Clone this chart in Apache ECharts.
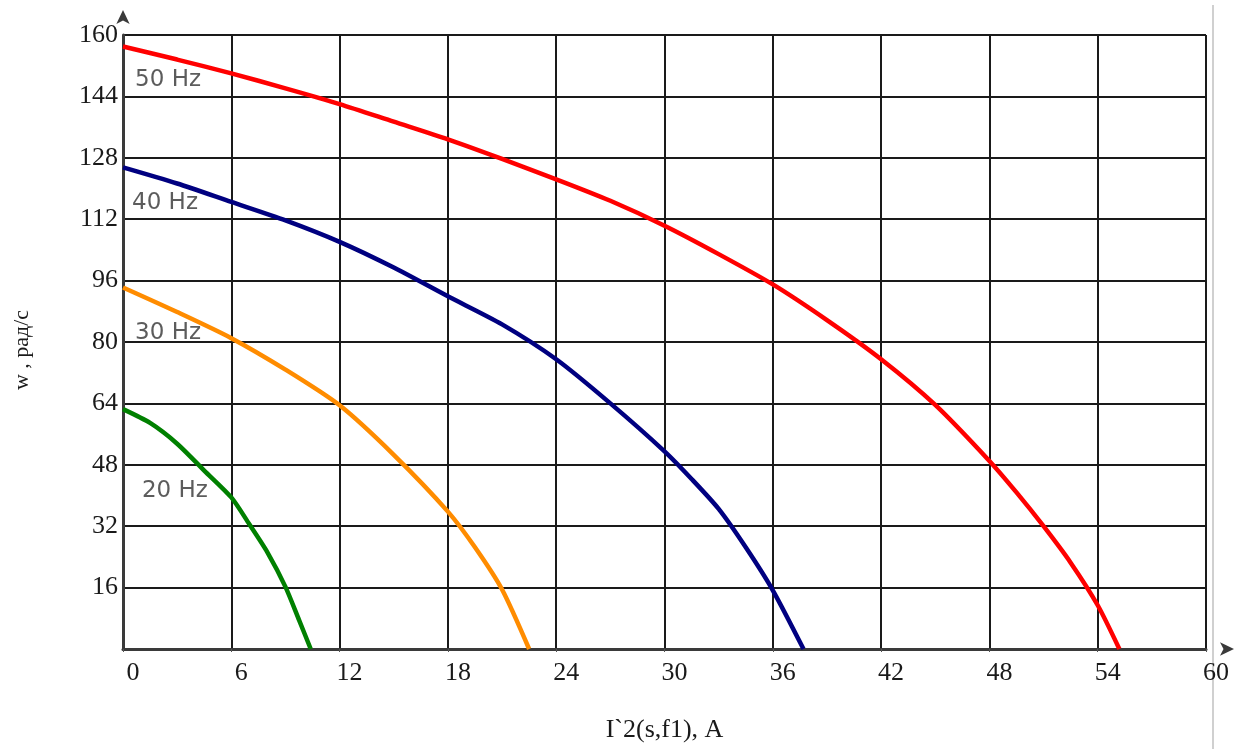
<!DOCTYPE html>
<html>
<head>
<meta charset="utf-8">
<script src="https://cdn.jsdelivr.net/npm/echarts@6/dist/echarts.min.js"></script>
<style>
  html, body { margin: 0; padding: 0; background: #fff; }
  #main { width: 1248px; height: 749px; }
</style>
</head>
<body>
<div id="main"></div>
<script>
// curves: [current, speed]
const f50 = [[0, 157], [3, 153.6], [6, 150], [9, 146.1], [12, 142], [15, 137.4], [18, 132.8], [21, 127.7],
  [24, 122.4], [27, 116.8], [30, 110.3], [33, 102.9], [36, 95], [39, 85.7], [42, 75.5], [45, 63.6],
  [48, 49], [49.5, 40.8], [51, 32], [52.5, 22.5], [54, 11.4], [55.2, 0]];
const f40 = [[0, 125.5], [3, 121.3], [6, 116.5], [9, 111.7], [12, 106.1], [15, 99.4], [18, 91.9], [21, 84.6],
  [24, 75.5], [27, 64], [30, 51.5], [31.5, 44.3], [33, 36.5], [34.5, 26.5], [36, 15.3], [37.7, 0]];
const f30 = [[0, 94.2], [3, 87.8], [6, 81], [9, 72.8], [12, 63.5], [15, 50.6], [18, 35.8], [19.5, 26.5],
  [21, 15.5], [22.5, 0]];
const f20 = [[0, 62.5], [1.5, 58.9], [3, 53.5], [4.5, 46.5], [6, 39.5], [7, 32.5], [8, 25.2], [9, 16.2],
  [9.75, 7.6], [10.4, 0]];

const seriesNames = ['50 Hz', '40 Hz', '30 Hz', '20 Hz'];
const seriesColors = ['#ff0000', '#000080', '#ff8c00', '#008000'];
const labelAnchors = [[0.67, 148.3], [0.5, 116.2], [0.67, 82.3], [1.05, 41.2]];

const xName = 'I`2(s,f1), A';
const yName = 'w , рад/с';

var chartDom = document.getElementById('main');
var myChart = echarts.init(chartDom);
var option;

const curves = [f50, f40, f30, f20];

option = {
  animation: false,
  backgroundColor: '#fff',
  grid: { left: 123, right: 42, top: 35, bottom: 100 },
  graphic: [
    {
      type: 'line',
      shape: { x1: 1213, y1: 5, x2: 1213, y2: 749 },
      style: { stroke: '#d0d0d0', lineWidth: 2 }
    }
  ],
  xAxis: {
    type: 'value',
    min: 0,
    max: 60,
    interval: 6,
    name: xName,
    nameLocation: 'middle',
    nameGap: 68,
    nameTextStyle: { fontFamily: 'Liberation Serif', fontSize: 26, color: '#1a1a1a' },
    axisLine: {
      show: true,
      lineStyle: { color: '#3a3a3a', width: 3 },
      symbol: ['none', 'arrow'],
      symbolSize: [10, 14],
      symbolOffset: [0, 28]
    },
    axisTick: { show: true, length: 3, lineStyle: { color: '#555', width: 1 } },
    axisLabel: {
      fontFamily: 'Liberation Serif',
      fontSize: 26,
      color: '#1a1a1a',
      margin: 11,
      padding: [0, 0, 0, 20]
    },
    splitLine: { show: true, lineStyle: { color: '#1a1a1a', width: 2 } }
  },
  yAxis: {
    type: 'value',
    min: 0,
    max: 160,
    interval: 16,
    name: yName,
    nameLocation: 'middle',
    nameGap: 90,
    nameTextStyle: { fontFamily: 'Liberation Serif', fontSize: 22, color: '#1a1a1a', padding: [0, 16, 0, 0] },
    axisLine: {
      show: true,
      lineStyle: { color: '#3a3a3a', width: 3 },
      symbol: ['none', 'arrow'],
      symbolSize: [10, 14],
      symbolOffset: [0, 25]
    },
    axisTick: { show: false },
    axisLabel: {
      fontFamily: 'Liberation Serif',
      fontSize: 26,
      color: '#1a1a1a',
      margin: 5,
      formatter: function (v) { return v === 0 ? '' : String(v); }
    },
    splitLine: { show: true, lineStyle: { color: '#1a1a1a', width: 2 } }
  },
  series: curves.map(function (data, i) {
    return {
      name: seriesNames[i],
      type: 'line',
      data: data,
      smooth: 0.25,
      showSymbol: false,
      lineStyle: { color: seriesColors[i], width: 4.5 },
      z: 3
    };
  }).concat([{
    type: 'scatter',
    symbolSize: 0,
    data: labelAnchors.map(function (p, i) { return { value: p, name: seriesNames[i] }; }),
    label: {
      show: true,
      position: [0, 0],
      align: 'left',
      verticalAlign: 'middle',
      formatter: function (p) { return p.name; },
      fontFamily: 'DejaVu Sans',
      fontSize: 23,
      color: '#333'
    },
    z: 4
  }])
};

option && myChart.setOption(option);
</script>
</body>
</html>
